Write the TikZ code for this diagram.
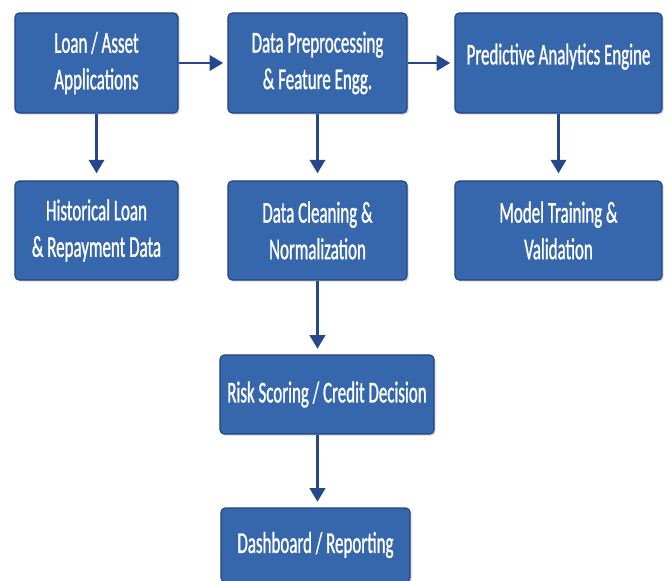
\documentclass[tikz,border=0pt]{standalone}
\usepackage{fontspec}
\usepackage{tikz}
\usetikzlibrary{arrows.meta}
\usetikzlibrary{shadows}
\newfontfamily\boxfont{Carlito}[FakeStretch=0.56, FakeBold=0.9]
\definecolor{boxblue}{RGB}{54,103,172}
\definecolor{boxedge}{RGB}{36,70,128}
\definecolor{flowblue}{RGB}{36,72,138}

\tikzset{
  stage/.style={draw=boxedge, fill=boxblue, line width=0.8pt, rounded corners=3pt,
                text=white, align=center, inner sep=2pt,
                font=\boxfont\fontsize{21.5}{26}\selectfont,
                drop shadow={shadow xshift=1.2pt, shadow yshift=-1.2pt, opacity=0.3}},
  flow/.style={draw=flowblue, line width=2.1pt,
               -{Triangle[length=0.34cm, width=0.38cm]}}
}

\begin{document}
\begin{tikzpicture}[x=0.025cm, y=-0.025cm]
          \useasboundingbox (0,0) rectangle (670,580);
          \clip (0,0) rectangle (670,580);

          \node[stage, minimum width=4.075cm, minimum height=2.5cm]   (loan)   at (96.5,63)   {Loan / Asset\\Applications};
          \node[stage, minimum width=4.475cm, minimum height=2.5cm]   (prep)   at (317.5,63)  {Data Preprocessing\\\& Feature Engg.};
          \node[stage, minimum width=5.175cm, minimum height=2.5cm, text depth=0.45cm] (engine) at (558.5,63) {Predictive Analytics Engine};
          \node[stage, minimum width=4.075cm, minimum height=2.475cm] (hist)   at (96.5,230.5)  {Historical Loan\\\& Repayment Data};
          \node[stage, minimum width=4.475cm, minimum height=2.475cm] (clean)  at (317.5,230.5) {Data Cleaning \&\\Normalization};
          \node[stage, minimum width=5.175cm, minimum height=2.475cm] (model)  at (558.5,230.5) {Model Training \&\\Validation};
          \node[stage, minimum width=5.35cm, minimum height=1.975cm]  (risk)   at (327,394.5) {Risk Scoring / Credit Decision};
          \node[stage, minimum width=4.725cm, minimum height=1.85cm]  (dash)   at (315.5,545) {Dashboard / Reporting};

          % Draw the edges
          \draw[flow, shorten >=3pt] (loan) -- (prep);
          \draw[flow, shorten >=3pt] (prep) -- (engine);
          \draw[flow, shorten >=5pt] (loan) -- (hist);
          \draw[flow, shorten >=5pt] (prep) -- (clean);
          \draw[flow, shorten >=5pt] (engine) -- (model);
          \draw[flow, shorten >=4pt] (clean.south) -- (clean.south |- risk.north);
          \draw[flow, shorten >=4pt] (risk.south -| clean.south) -- (dash.north -| clean.south);
      \end{tikzpicture}
\end{document}
